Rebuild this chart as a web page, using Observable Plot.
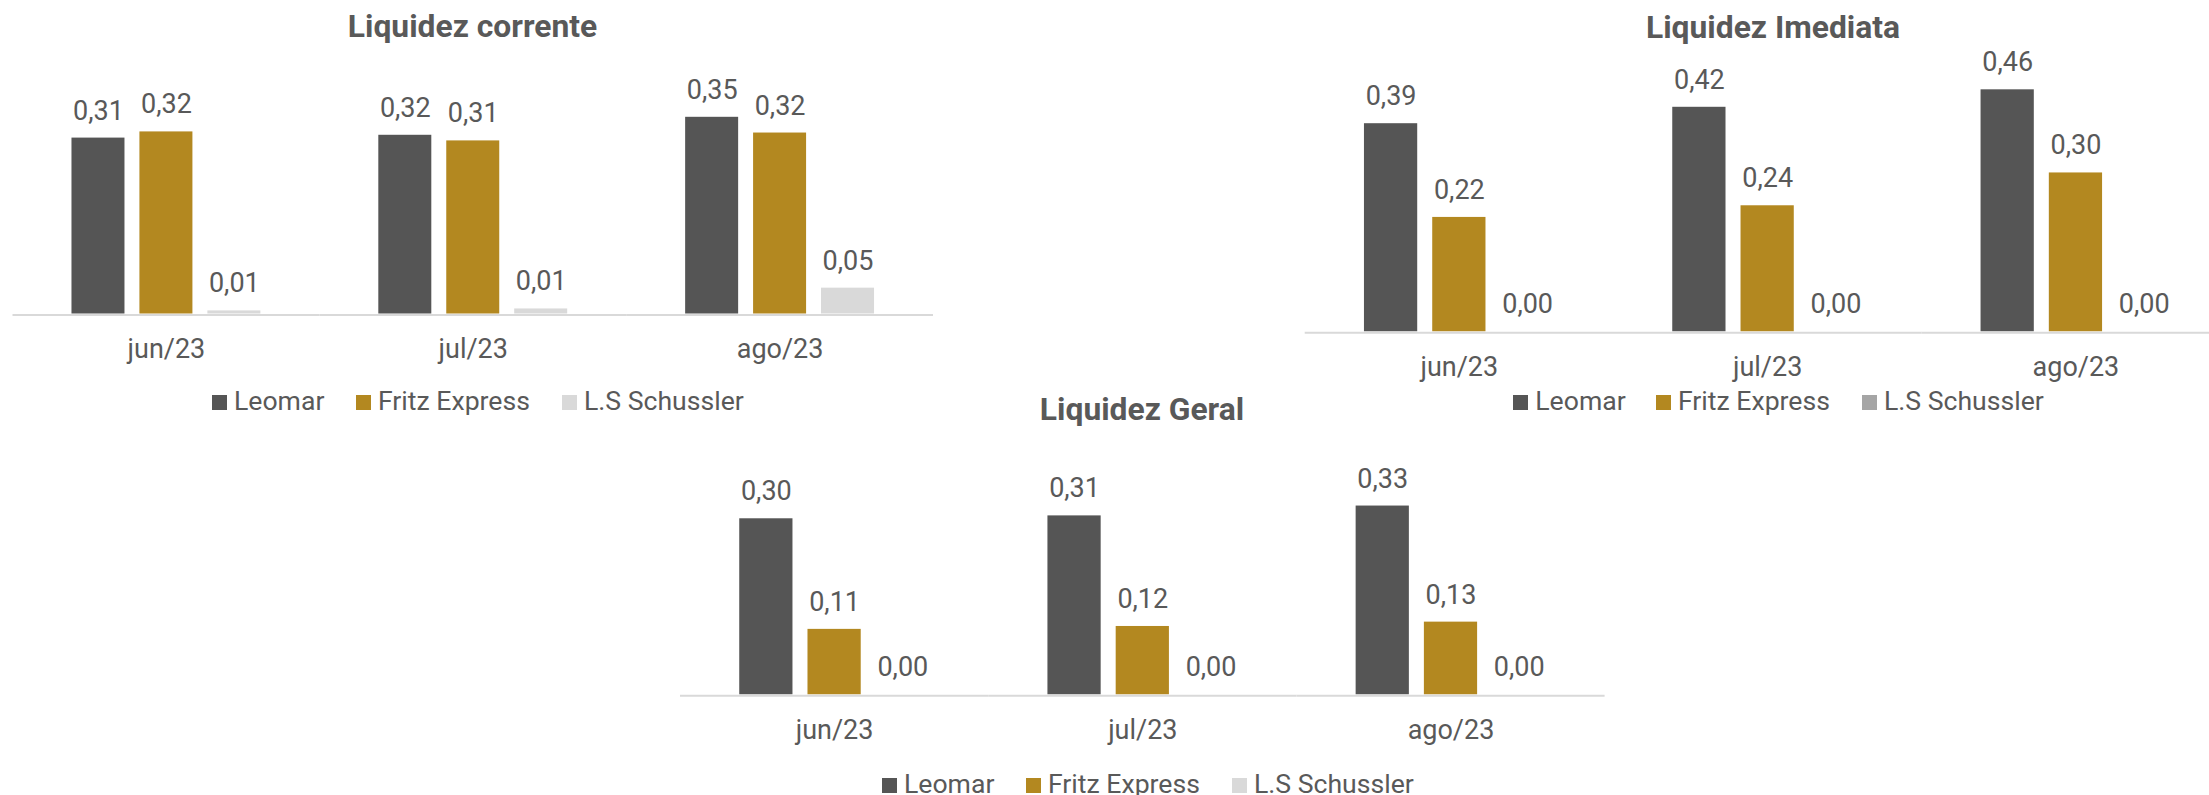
<!DOCTYPE html>
<html><head><meta charset="utf-8">
<script src="https://cdn.jsdelivr.net/npm/d3@7"></script>
<script src="https://cdn.jsdelivr.net/npm/@observablehq/plot@0.6"></script>
<style>
html,body{margin:0;padding:0;background:#fff;overflow:hidden;}
body{width:2209px;height:795px;position:relative;font-family:Roboto,sans-serif;}
.chart{position:absolute;}
.title{position:absolute;font-weight:700;font-size:31.8px;line-height:31.8px;color:#595959;white-space:nowrap;transform:translateX(-50%);}
.litem{position:absolute;font-size:26.6px;line-height:26.6px;height:27px;color:#595959;white-space:nowrap;}
.litem .sw{position:absolute;left:0;width:14.5px;height:14.5px;}
.litem .tx{position:absolute;left:22px;top:0;}
</style></head><body>
<script>
const months = ["jun/23", "jul/23", "ago/23"];
const series = ["Leomar", "Fritz Express", "L.S Schussler"];

// Liquidez corrente
const correnteLeomar = [0.313, 0.318, 0.350];
const correnteFritz  = [0.324, 0.308, 0.322];
const correnteLS     = [0.0055, 0.009, 0.046];
// Liquidez Imediata
const imediataLeomar = [0.393, 0.424, 0.457];
const imediataFritz  = [0.216, 0.238, 0.300];
const imediataLS     = [0.000, 0.000, 0.000];
// Liquidez Geral
const geralLeomar = [0.304, 0.309, 0.326];
const geralFritz  = [0.113, 0.118, 0.1255];
const geralLS     = [0.000, 0.000, 0.000];

const colorsLight = ["#555555", "#B38820", "#D9D9D9"];
const colorsMid   = ["#555555", "#B38820", "#A5A5A5"];

const fmt = v => d3.format(".2f")(v).replace(".", ",");

function addChart(cfg) {
  const data = [];
  months.forEach((m, i) => series.forEach((s, j) => data.push({month: m, series: s, value: cfg.values[j][i]})));
  const svg = Plot.plot({
    width: cfg.width, height: cfg.height,
    marginLeft: cfg.marginLeft, marginRight: 0, marginTop: cfg.marginTop, marginBottom: cfg.marginBottom,
    style: {fontFamily: "Roboto, sans-serif", background: "transparent", overflow: "visible", maxWidth: "none", color: "#595959"},
    fx: {domain: months, padding: 0, round: false, label: null},
    x: {domain: series, paddingInner: 0.22, paddingOuter: 0.868, round: false, axis: null, label: null},
    y: {domain: [0, cfg.ymax], axis: null},
    color: {domain: series, range: cfg.colors},
    marks: [
      Plot.barY(data, {fx: "month", x: "series", y: "value", fill: "series"}),
      Plot.ruleY([0], {stroke: "#D9D9D9", strokeWidth: 2, dy: 1}),
      Plot.text(data, {fx: "month", x: "series", y: "value", text: d => fmt(d.value), lineAnchor: "bottom", dy: -18.5, fontSize: 27, fill: "#595959"}),
      Plot.axisFx({anchor: "bottom", tickSize: 0, tickPadding: 25, fontSize: 27, fill: "#595959", label: null})
    ]
  });
  const div = document.createElement("div");
  div.className = "chart";
  div.style.left = cfg.left + "px";
  div.style.top = cfg.top + "px";
  div.style.width = cfg.width + "px";
  div.appendChild(svg);
  document.body.appendChild(div);

  const t = document.createElement("div");
  t.className = "title";
  t.textContent = cfg.title;
  t.style.left = cfg.titleX + "px";
  t.style.top = (cfg.titleBaseline - 0.8415 * 31.8) + "px";
  document.body.appendChild(t);

  series.forEach((s, j) => {
    const it = document.createElement("div");
    it.className = "litem";
    const topY = cfg.legendBaseline - 0.8415 * 26.6;
    it.style.left = cfg.legendX[j] + "px";
    it.style.top = topY + "px";
    const sw = document.createElement("div");
    sw.className = "sw";
    sw.style.background = cfg.colors[j];
    sw.style.top = (cfg.legendBaseline - 14.5 - topY) + "px";
    const tx = document.createElement("span");
    tx.className = "tx";
    tx.textContent = s;
    it.appendChild(sw); it.appendChild(tx);
    document.body.appendChild(it);
  });
}

addChart({
  title: "Liquidez corrente", titleX: 472.5, titleBaseline: 37.3,
  left: 0, top: 0, width: 933, height: 373.5, marginLeft: 12.5, marginTop: 32.5, marginBottom: 60, ymax: 0.5,
  values: [correnteLeomar, correnteFritz, correnteLS], colors: colorsLight,
  legendX: [212, 356, 562], legendBaseline: 410
});
addChart({
  title: "Liquidez Imediata", titleX: 1773, titleBaseline: 38.5,
  left: 1290, top: 0, width: 939.6, height: 391.3, marginLeft: 14.7, marginTop: 13.6, marginBottom: 60, ymax: 0.6,
  values: [imediataLeomar, imediataFritz, imediataLS], colors: colorsMid,
  legendX: [1513.3, 1656, 1862], legendBaseline: 410
});
addChart({
  title: "Liquidez Geral", titleX: 1142, titleBaseline: 420.6,
  left: 668, top: 380, width: 936.6, height: 374.3, marginLeft: 12, marginTop: 24.8, marginBottom: 60, ymax: 0.5,
  values: [geralLeomar, geralFritz, geralLS], colors: colorsLight,
  legendX: [882, 1026, 1232], legendBaseline: 793
});
</script>
</body></html>
